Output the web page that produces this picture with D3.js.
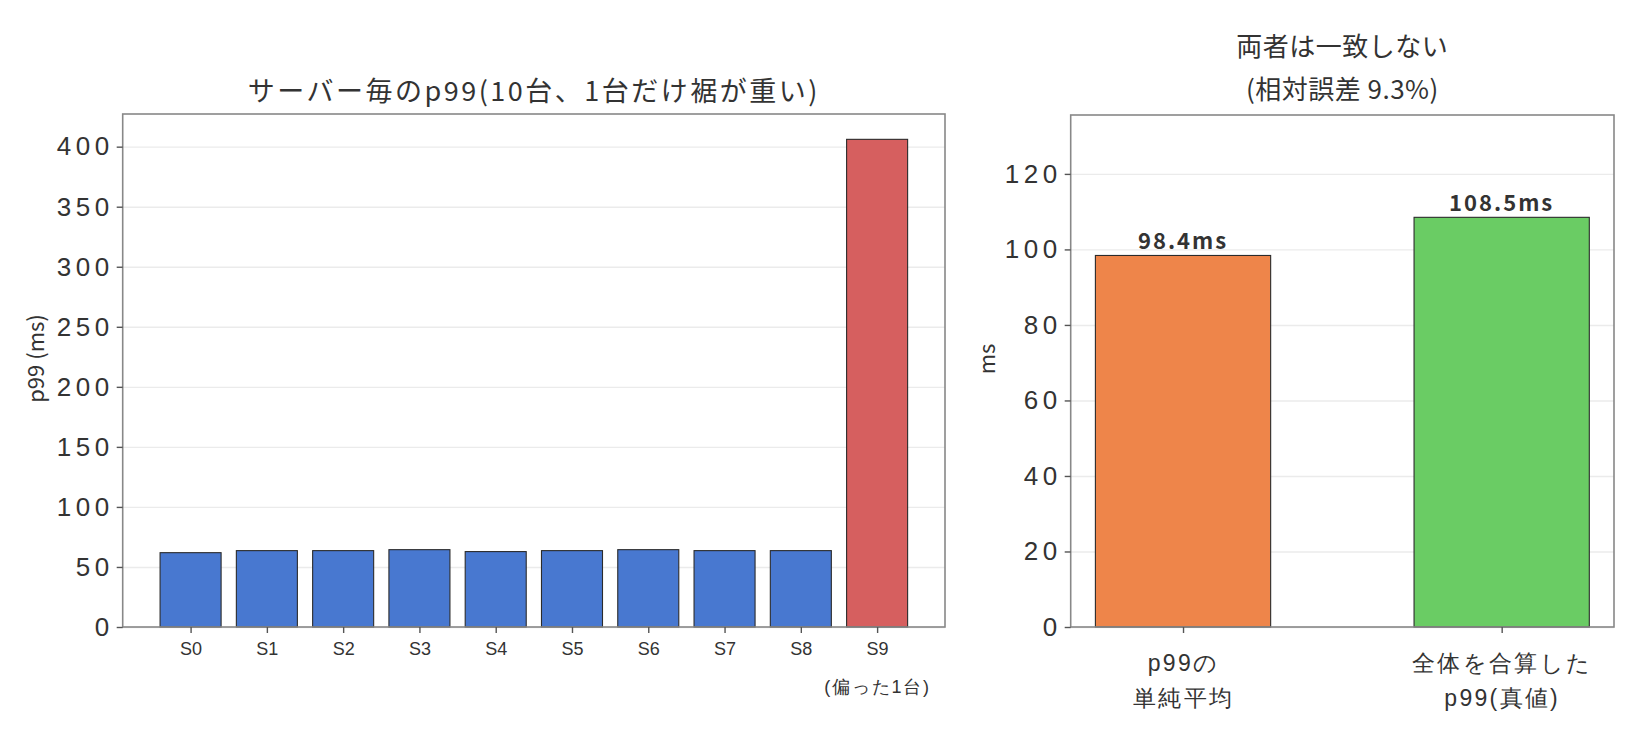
<!DOCTYPE html>
<html>
<head>
<meta charset="utf-8">
<script src="https://cdn.jsdelivr.net/npm/d3@7"></script>
<style>
  body { margin: 0; background: #fff; }
  svg { font-family: "Noto Sans CJK JP", "Noto Sans", sans-serif; }
  .axis path { stroke: #888; stroke-width: 1.6; }
  .axis line { stroke: #555; stroke-width: 1.4; }
  .axis text { fill: #333; }
  .grid line { stroke: #ebebeb; stroke-width: 1.4; }
  .grid path { display: none; }
</style>
</head>
<body>
<div id="chart"></div>
<script>

// data
var servers = ["S0", "S1", "S2", "S3", "S4", "S5", "S6", "S7", "S8", "S9"];
var serverNotes = ["", "", "", "", "", "", "", "", "", "(偏った1台)"];
var serverP99 = [61.9, 63.6, 63.6, 64.4, 62.8, 63.6, 64.4, 63.6, 63.6, 406.1];
var leftTicks = [0, 50, 100, 150, 200, 250, 300, 350, 400];
var leftTitle = "サーバー毎のp99(10台、1台だけ裾が重い)";
var leftYLabel = "p99 (ms)";

var compareLabels = [["p99の", "単純平均"], ["全体を合算した", "p99(真値)"]];
var compareValues = [98.4, 108.5];
var rightTicks = [0, 20, 40, 60, 80, 100, 120];
var rightTitle = ["両者は一致しない", "(相対誤差 9.3%)"];
var rightYLabel = "ms";

var svg = d3.select("#chart")
  .append("svg")
    .attr("width", 1641)
    .attr("height", 741);

// ---------- left panel ----------
var l = {left: 122.7, right: 945, top: 114, bottom: 627};

var lx = d3.scaleLinear().domain([-0.89, 9.89]).range([l.left, l.right]);
var ly = d3.scaleLinear().domain([0, 427.2]).range([l.bottom, l.top]);

// horizontal grid
svg.append("g")
    .attr("class", "grid")
    .attr("transform", "translate(" + l.left + ",0)")
    .call(d3.axisLeft(ly).tickValues(leftTicks).tickSize(-(l.right - l.left)).tickFormat(""));

// bars
svg.append("g")
  .selectAll("rect")
  .data(serverP99)
  .enter()
    .append("rect")
      .attr("x", function(d, i) { return lx(i - 0.4); })
      .attr("width", lx(0.8) - lx(0))
      .attr("y", function(d) { return ly(d); })
      .attr("height", function(d) { return ly(0) - ly(d); })
      .attr("fill", function(d, i) { return i == 9 ? "#D65F5F" : "#4878D0"; })
      .attr("stroke", "#2b2b2b")
      .attr("stroke-width", 1.1);

// frame
svg.append("rect")
    .attr("x", l.left).attr("y", l.top)
    .attr("width", l.right - l.left).attr("height", l.bottom - l.top)
    .attr("fill", "none").attr("stroke", "#888").attr("stroke-width", 1.6);

// y axis
svg.append("g")
    .attr("class", "axis")
    .attr("transform", "translate(" + l.left + ",0)")
    .call(d3.axisLeft(ly).tickValues(leftTicks).tickSize(6).tickPadding(3))
    .call(function(g) { g.select(".domain").remove(); })
    .selectAll("text")
      .style("font-size", "26px")
      .style("letter-spacing", "4.5px");

// x axis
var lxAxis = svg.append("g")
    .attr("class", "axis")
    .attr("transform", "translate(0," + l.bottom + ")")
    .call(d3.axisBottom(lx).tickValues(d3.range(servers.length)).tickSize(6).tickPadding(9)
      .tickFormat(function(i) { return servers[i]; }))
    .call(function(g) { g.select(".domain").remove(); });
lxAxis.selectAll("text")
    .style("font-size", "18px")
    .each(function(i) {
      if (serverNotes[i]) {
        d3.select(this).append("tspan")
          .attr("x", 0).attr("dy", "2.15em")
          .style("letter-spacing", "1.8px")
          .text(serverNotes[i]);
      }
    });

// title
svg.append("text")
    .attr("x", (l.left + l.right) / 2)
    .attr("y", 101)
    .attr("text-anchor", "middle")
    .style("font-size", "27px")
    .style("letter-spacing", "2.5px")
    .style("fill", "#333")
    .text(leftTitle);

// y label
svg.append("text")
    .attr("transform", "translate(44," + ((l.top + l.bottom) / 2 - 12) + ") rotate(-90)")
    .attr("text-anchor", "middle")
    .style("font-size", "22px")
    .style("fill", "#333")
    .text(leftYLabel);

// ---------- right panel ----------
var r = {left: 1070.7, right: 1614, top: 115, bottom: 627};

var rx = d3.scaleLinear().domain([-0.3525, 1.3525]).range([r.left, r.right]);
var ry = d3.scaleLinear().domain([0, 135.6]).range([r.bottom, r.top]);
var rColor = ["#EE854A", "#6ACC64"];

svg.append("g")
    .attr("class", "grid")
    .attr("transform", "translate(" + r.left + ",0)")
    .call(d3.axisLeft(ry).tickValues(rightTicks).tickSize(-(r.right - r.left)).tickFormat(""));

svg.append("g")
  .selectAll("rect")
  .data(compareValues)
  .enter()
    .append("rect")
      .attr("x", function(d, i) { return rx(i - 0.275); })
      .attr("width", rx(0.55) - rx(0))
      .attr("y", function(d) { return ry(d); })
      .attr("height", function(d) { return ry(0) - ry(d); })
      .attr("fill", function(d, i) { return rColor[i]; })
      .attr("stroke", "#2b2b2b")
      .attr("stroke-width", 1.1);

// value labels
svg.append("g")
  .selectAll("text")
  .data(compareValues)
  .enter()
    .append("text")
      .attr("x", function(d, i) { return rx(i); })
      .attr("y", function(d) { return ry(d) - 6; })
      .attr("text-anchor", "middle")
      .style("font-size", "22px")
      .style("letter-spacing", "2px")
      .style("font-weight", "bold")
      .style("fill", "#333")
      .text(function(d) { return d.toFixed(1) + "ms"; });

svg.append("rect")
    .attr("x", r.left).attr("y", r.top)
    .attr("width", r.right - r.left).attr("height", r.bottom - r.top)
    .attr("fill", "none").attr("stroke", "#888").attr("stroke-width", 1.6);

svg.append("g")
    .attr("class", "axis")
    .attr("transform", "translate(" + r.left + ",0)")
    .call(d3.axisLeft(ry).tickValues(rightTicks).tickSize(6).tickPadding(3))
    .call(function(g) { g.select(".domain").remove(); })
    .selectAll("text")
      .style("font-size", "26px")
      .style("letter-spacing", "4.5px");

var rxAxis = svg.append("g")
    .attr("class", "axis")
    .attr("transform", "translate(0," + r.bottom + ")")
    .call(d3.axisBottom(rx).tickValues([0, 1]).tickSize(6).tickPadding(22)
      .tickFormat(function(i) { return compareLabels[i][0]; }))
    .call(function(g) { g.select(".domain").remove(); });
rxAxis.selectAll("text")
    .style("font-size", "23px")
    .style("letter-spacing", "2.3px")
    .each(function(i) {
      d3.select(this).append("tspan")
        .attr("x", 0).attr("dy", "1.5em")
        .text(compareLabels[i][1]);
    });

svg.append("g")
  .selectAll("text")
  .data(rightTitle)
  .enter()
    .append("text")
      .attr("x", (r.left + r.right) / 2)
      .attr("y", function(d, i) { return 56 + i * 43; })
      .attr("text-anchor", "middle")
      .style("font-size", "26px")
      .style("letter-spacing", "0.5px")
      .style("fill", "#333")
      .text(function(d) { return d; });

svg.append("text")
    .attr("transform", "translate(995," + ((r.top + r.bottom) / 2 - 12) + ") rotate(-90)")
    .attr("text-anchor", "middle")
    .style("font-size", "22px")
    .style("fill", "#333")
    .text(rightYLabel);

</script>
</body>
</html>
